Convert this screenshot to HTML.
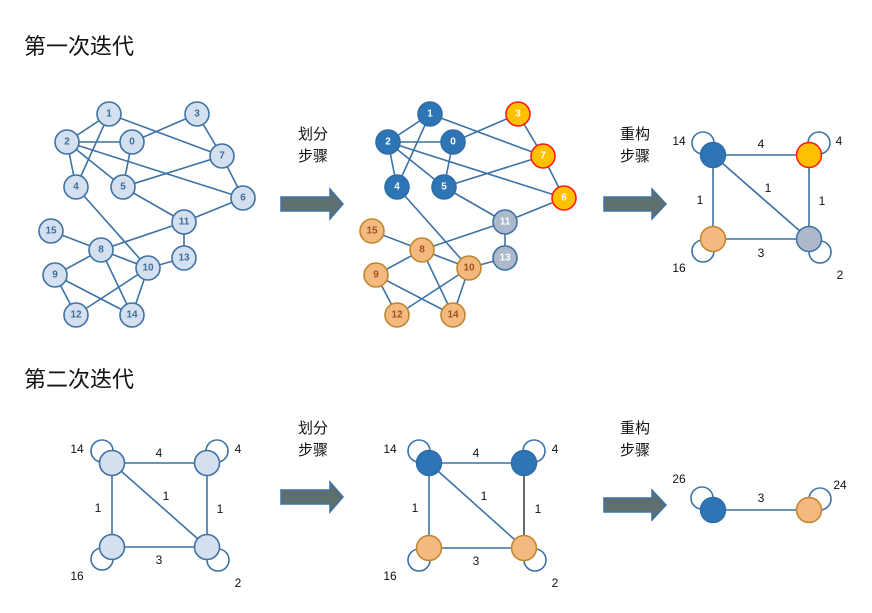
<!DOCTYPE html>
<html><head><meta charset="utf-8">
<style>
html,body{margin:0;padding:0;background:#fff;}
svg{display:block;}
.t{font-family:"Liberation Sans","Noto Sans CJK SC",sans-serif;}
.n{font-family:"Liberation Sans",sans-serif;font-size:10px;font-weight:bold;text-anchor:middle;dominant-baseline:central;}
.w{font-family:"Liberation Sans",sans-serif;font-size:12px;fill:#111;text-anchor:middle;dominant-baseline:central;}
</style></head>
<body>
<svg width="872" height="613" viewBox="0 0 872 613" xmlns="http://www.w3.org/2000/svg">
<text class="t" x="24" y="54" font-size="22" fill="#111">第一次迭代</text>
<text class="t" x="24" y="387" font-size="22" fill="#111">第二次迭代</text>

<!-- step labels -->
<g class="t" font-size="15" fill="#111">
<text x="298" y="139">划分</text><text x="298" y="161">步骤</text>
<text x="620" y="139">重构</text><text x="620" y="161">步骤</text>
<text x="298" y="433">划分</text><text x="298" y="455">步骤</text>
<text x="620" y="433">重构</text><text x="620" y="455">步骤</text>
</g>

<!-- arrows -->
<g fill="#5f6f6e" stroke="#3c73a5" stroke-width="1.5">
<path d="M281,197 H330 V189 L343,204 L330,219 V211 H281 Z"/>
<path d="M604,197 H652 V189 L666,204 L652,219 V211 H604 Z"/>
<path d="M281,490 H330 V482 L343,497 L330,512 V504 H281 Z"/>
<path d="M604,498 H652 V490 L666,505 L652,520 V512 H604 Z"/>
</g>

<!-- Graph 1 -->
<g id="g1">
<g stroke="#3d72a4" stroke-width="1.6">
<line x1="109" y1="114" x2="67" y2="142"/>
<line x1="109" y1="114" x2="76" y2="187"/>
<line x1="109" y1="114" x2="222" y2="156"/>
<line x1="67" y1="142" x2="132" y2="142"/>
<line x1="67" y1="142" x2="76" y2="187"/>
<line x1="67" y1="142" x2="123" y2="187"/>
<line x1="67" y1="142" x2="243" y2="198"/>
<line x1="132" y1="142" x2="197" y2="114"/>
<line x1="132" y1="142" x2="123" y2="187"/>
<line x1="197" y1="114" x2="222" y2="156"/>
<line x1="222" y1="156" x2="123" y2="187"/>
<line x1="222" y1="156" x2="243" y2="198"/>
<line x1="243" y1="198" x2="184" y2="222"/>
<line x1="123" y1="187" x2="184" y2="222"/>
<line x1="76" y1="187" x2="148" y2="268"/>
<line x1="184" y1="222" x2="101" y2="250"/>
<line x1="184" y1="222" x2="184" y2="258"/>
<line x1="51" y1="231" x2="101" y2="250"/>
<line x1="101" y1="250" x2="55" y2="275"/>
<line x1="101" y1="250" x2="148" y2="268"/>
<line x1="101" y1="250" x2="132" y2="315"/>
<line x1="184" y1="258" x2="148" y2="268"/>
<line x1="148" y1="268" x2="76" y2="315"/>
<line x1="148" y1="268" x2="132" y2="315"/>
<line x1="55" y1="275" x2="76" y2="315"/>
<line x1="55" y1="275" x2="132" y2="315"/>
</g>
<g fill="#d4dfef" stroke="#3d72a4" stroke-width="1.6">
<circle cx="109" cy="114" r="12"/><circle cx="67" cy="142" r="12"/><circle cx="132" cy="142" r="12"/>
<circle cx="197" cy="114" r="12"/><circle cx="222" cy="156" r="12"/><circle cx="76" cy="187" r="12"/>
<circle cx="123" cy="187" r="12"/><circle cx="243" cy="198" r="12"/><circle cx="184" cy="222" r="12"/>
<circle cx="51" cy="231" r="12"/><circle cx="101" cy="250" r="12"/><circle cx="184" cy="258" r="12"/>
<circle cx="148" cy="268" r="12"/><circle cx="55" cy="275" r="12"/><circle cx="76" cy="315" r="12"/>
<circle cx="132" cy="315" r="12"/>
</g>
<g class="n" fill="#3d6e9c">
<text x="109" y="114">1</text><text x="67" y="142">2</text><text x="132" y="142">0</text>
<text x="197" y="114">3</text><text x="222" y="156">7</text><text x="76" y="187">4</text>
<text x="123" y="187">5</text><text x="243" y="198">6</text><text x="184" y="222">11</text>
<text x="51" y="231">15</text><text x="101" y="250">8</text><text x="184" y="258">13</text>
<text x="148" y="268">10</text><text x="55" y="275">9</text><text x="76" y="315">12</text>
<text x="132" y="315">14</text>
</g>
</g>

<!-- Graph 2 (partitioned) -->
<g transform="translate(321,0)">
<g stroke="#3d72a4" stroke-width="1.6">
<line x1="109" y1="114" x2="67" y2="142"/>
<line x1="109" y1="114" x2="76" y2="187"/>
<line x1="109" y1="114" x2="222" y2="156"/>
<line x1="67" y1="142" x2="132" y2="142"/>
<line x1="67" y1="142" x2="76" y2="187"/>
<line x1="67" y1="142" x2="123" y2="187"/>
<line x1="67" y1="142" x2="243" y2="198"/>
<line x1="132" y1="142" x2="197" y2="114"/>
<line x1="132" y1="142" x2="123" y2="187"/>
<line x1="197" y1="114" x2="222" y2="156"/>
<line x1="222" y1="156" x2="123" y2="187"/>
<line x1="222" y1="156" x2="243" y2="198"/>
<line x1="243" y1="198" x2="184" y2="222"/>
<line x1="123" y1="187" x2="184" y2="222"/>
<line x1="76" y1="187" x2="148" y2="268"/>
<line x1="184" y1="222" x2="101" y2="250"/>
<line x1="184" y1="222" x2="184" y2="258"/>
<line x1="51" y1="231" x2="101" y2="250"/>
<line x1="101" y1="250" x2="55" y2="275"/>
<line x1="101" y1="250" x2="148" y2="268"/>
<line x1="101" y1="250" x2="132" y2="315"/>
<line x1="184" y1="258" x2="148" y2="268"/>
<line x1="148" y1="268" x2="76" y2="315"/>
<line x1="148" y1="268" x2="132" y2="315"/>
<line x1="55" y1="275" x2="76" y2="315"/>
<line x1="55" y1="275" x2="132" y2="315"/>
</g>
<g fill="#2e75b6" stroke="#2e6da8" stroke-width="1.6">
<circle cx="109" cy="114" r="12"/><circle cx="67" cy="142" r="12"/><circle cx="132" cy="142" r="12"/>
<circle cx="76" cy="187" r="12"/><circle cx="123" cy="187" r="12"/>
</g>
<g fill="#ffc000" stroke="#ff1a1a" stroke-width="1.6">
<circle cx="197" cy="114" r="12"/><circle cx="222" cy="156" r="12"/><circle cx="243" cy="198" r="12"/>
</g>
<g fill="#adb9ca" stroke="#3d72a4" stroke-width="1.6">
<circle cx="184" cy="222" r="12"/><circle cx="184" cy="258" r="12"/>
</g>
<g fill="#f4b97f" stroke="#c0862e" stroke-width="1.6">
<circle cx="51" cy="231" r="12"/><circle cx="101" cy="250" r="12"/><circle cx="148" cy="268" r="12"/>
<circle cx="55" cy="275" r="12"/><circle cx="76" cy="315" r="12"/><circle cx="132" cy="315" r="12"/>
</g>
<g class="n" fill="#fff">
<text x="109" y="114">1</text><text x="67" y="142">2</text><text x="132" y="142">0</text>
<text x="197" y="114">3</text><text x="222" y="156">7</text><text x="76" y="187">4</text>
<text x="123" y="187">5</text><text x="243" y="198">6</text><text x="184" y="222">11</text>
<text x="184" y="258">13</text>
</g>
<g class="n" fill="#a0521c">
<text x="51" y="231">15</text><text x="101" y="250">8</text>
<text x="148" y="268">10</text><text x="55" y="275">9</text><text x="76" y="315">12</text>
<text x="132" y="315">14</text>
</g>
</g>

<!-- Contracted graph 1 -->
<g fill="none" stroke="#3d72a4" stroke-width="1.6">
<circle cx="703" cy="143" r="11"/><circle cx="819" cy="143" r="11"/>
<circle cx="703" cy="251" r="11"/><circle cx="820" cy="252" r="11"/>
<line x1="713" y1="155" x2="809" y2="155"/><line x1="713" y1="155" x2="713" y2="239"/>
<line x1="713" y1="155" x2="809" y2="239"/><line x1="809" y1="155" x2="809" y2="239"/>
<line x1="713" y1="239" x2="809" y2="239"/>
</g>
<circle cx="713" cy="155" r="12.5" fill="#2e75b6" stroke="#2e6da8" stroke-width="1.5"/>
<circle cx="809" cy="155" r="12.5" fill="#ffc000" stroke="#ff1a1a" stroke-width="1.5"/>
<circle cx="713" cy="239" r="12.5" fill="#f4b97f" stroke="#c0862e" stroke-width="1.5"/>
<circle cx="809" cy="239" r="12.5" fill="#adb9ca" stroke="#3d72a4" stroke-width="1.5"/>
<g class="w">
<text x="679" y="141">14</text><text x="761" y="144">4</text><text x="839" y="141">4</text>
<text x="700" y="200">1</text><text x="768" y="188">1</text><text x="822" y="201">1</text>
<text x="761" y="253">3</text><text x="679" y="268">16</text><text x="840" y="275">2</text>
</g>

<!-- Bottom graph 1 -->
<g fill="none" stroke="#3d72a4" stroke-width="1.6">
<circle cx="102" cy="451" r="11"/><circle cx="217" cy="451" r="11"/>
<circle cx="102" cy="559" r="11"/><circle cx="218" cy="560" r="11"/>
<line x1="112" y1="463" x2="207" y2="463"/><line x1="112" y1="463" x2="112" y2="547"/>
<line x1="112" y1="463" x2="207" y2="547"/><line x1="207" y1="463" x2="207" y2="547"/>
<line x1="112" y1="547" x2="207" y2="547"/>
</g>
<g fill="#d4dfef" stroke="#3d72a4" stroke-width="1.6">
<circle cx="112" cy="463" r="12.5"/><circle cx="207" cy="463" r="12.5"/>
<circle cx="112" cy="547" r="12.5"/><circle cx="207" cy="547" r="12.5"/>
</g>
<g class="w">
<text x="77" y="449">14</text><text x="159" y="453">4</text><text x="238" y="449">4</text>
<text x="98" y="508">1</text><text x="166" y="496">1</text><text x="220" y="509">1</text>
<text x="159" y="560">3</text><text x="77" y="576">16</text><text x="238" y="583">2</text>
</g>

<!-- Bottom graph 2 -->
<g fill="none" stroke="#3d72a4" stroke-width="1.6">
<circle cx="419" cy="451" r="11"/><circle cx="534" cy="451" r="11"/>
<circle cx="419" cy="560" r="11"/><circle cx="535" cy="560" r="11"/>
<line x1="429" y1="463" x2="524" y2="463"/><line x1="429" y1="463" x2="429" y2="548"/>
<line x1="429" y1="463" x2="524" y2="548"/>
<line x1="429" y1="548" x2="524" y2="548"/>
</g>
<line x1="524" y1="463" x2="524" y2="548" stroke="#444" stroke-width="1.6"/>
<circle cx="429" cy="463" r="12.5" fill="#2e75b6" stroke="#2e6da8" stroke-width="1.5"/>
<circle cx="524" cy="463" r="12.5" fill="#2e75b6" stroke="#2e6da8" stroke-width="1.5"/>
<circle cx="429" cy="548" r="12.5" fill="#f4b97f" stroke="#c0862e" stroke-width="1.5"/>
<circle cx="524" cy="548" r="12.5" fill="#f4b97f" stroke="#c0862e" stroke-width="1.5"/>
<g class="w">
<text x="390" y="449">14</text><text x="476" y="453">4</text><text x="555" y="449">4</text>
<text x="415" y="508">1</text><text x="484" y="496">1</text><text x="538" y="509">1</text>
<text x="476" y="561">3</text><text x="390" y="576">16</text><text x="555" y="583">2</text>
</g>

<!-- Bottom graph 3 -->
<g fill="none" stroke="#3d72a4" stroke-width="1.6">
<circle cx="702" cy="498" r="11"/><circle cx="820" cy="499" r="11"/>
<line x1="713" y1="510" x2="809" y2="510"/>
</g>
<circle cx="713" cy="510" r="12.5" fill="#2e75b6" stroke="#2e6da8" stroke-width="1.5"/>
<circle cx="809" cy="510" r="12.5" fill="#f4b97f" stroke="#c0862e" stroke-width="1.5"/>
<g class="w">
<text x="679" y="479">26</text><text x="761" y="498">3</text><text x="840" y="485">24</text>
</g>
</svg>
</body></html>
